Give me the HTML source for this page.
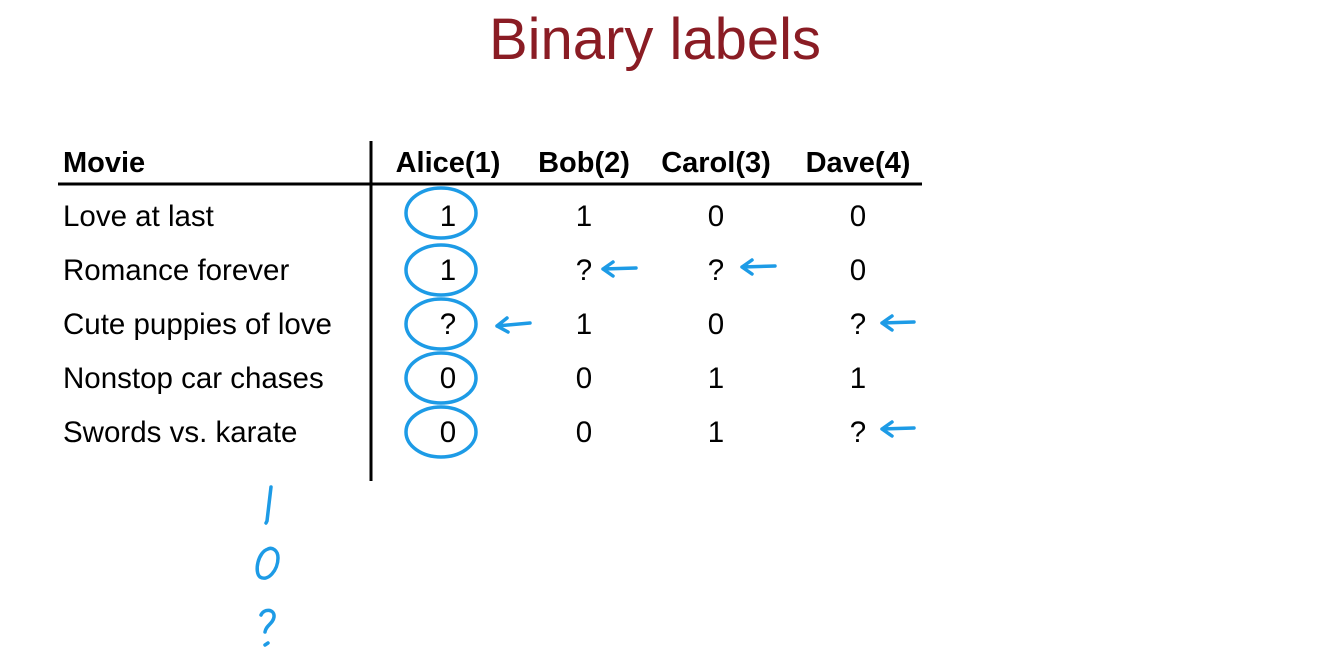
<!DOCTYPE html>
<html><head><meta charset="utf-8"><style>
html,body{margin:0;padding:0;background:#fff;}
svg{display:block;}
</style></head><body>
<svg width="1327" height="653" viewBox="0 0 1327 653" xmlns="http://www.w3.org/2000/svg" font-family="Liberation Sans, Arial, sans-serif">
<rect width="1327" height="653" fill="#fff"/>
<text x="655" y="59" text-anchor="middle" font-size="58" fill="#8a1c24">Binary labels</text>
<g font-size="29" font-weight="bold" fill="#000">
<text x="63" y="172">Movie</text>
<text x="448" y="172" text-anchor="middle">Alice(1)</text>
<text x="584" y="172" text-anchor="middle">Bob(2)</text>
<text x="716" y="172" text-anchor="middle">Carol(3)</text>
<text x="858" y="172" text-anchor="middle">Dave(4)</text>
</g>
<line x1="58" y1="184" x2="922" y2="184" stroke="#000" stroke-width="3"/>
<line x1="371" y1="141" x2="371" y2="481" stroke="#000" stroke-width="3"/>
<g font-size="29.5" fill="#000">
<text x="63" y="226">Love at last</text>
<text x="63" y="280">Romance forever</text>
<text x="63" y="334">Cute puppies of love</text>
<text x="63" y="388">Nonstop car chases</text>
<text x="63" y="442">Swords vs. karate</text>
<g text-anchor="middle">
<text x="448" y="226">1</text><text x="584" y="226">1</text><text x="716" y="226">0</text><text x="858" y="226">0</text>
<text x="448" y="280">1</text><text x="584" y="280">?</text><text x="716" y="280">?</text><text x="858" y="280">0</text>
<text x="448" y="334">?</text><text x="584" y="334">1</text><text x="716" y="334">0</text><text x="858" y="334">?</text>
<text x="448" y="388">0</text><text x="584" y="388">0</text><text x="716" y="388">1</text><text x="858" y="388">1</text>
<text x="448" y="442">0</text><text x="584" y="442">0</text><text x="716" y="442">1</text><text x="858" y="442">?</text>
</g></g>
<g fill="none" stroke="#1d9be6" stroke-width="3.5" stroke-linecap="round" stroke-linejoin="round">
<ellipse cx="441" cy="213" rx="35" ry="25"/>
<ellipse cx="441" cy="270" rx="35" ry="25"/>
<ellipse cx="441" cy="324" rx="35" ry="25"/>
<ellipse cx="441" cy="378" rx="35" ry="25"/>
<ellipse cx="441" cy="432" rx="35" ry="25"/>
<path d="M603 269 L636 268 M603 269 L613 262 M603 269 L613 276"/>
<path d="M742 267 L775 266 M742 267 L752 260 M742 267 L752 274"/>
<path d="M497 326 L530 323 M497 326 L507 318 M497 326 L508 332"/>
<path d="M882 323 L914 322 M882 323 L892 316 M882 323 L892 330"/>
<path d="M882 429 L914 428 M882 429 L892 422 M882 429 L892 436"/>
<path d="M271 487 L267 521 L266 523"/>
<path d="M268 549 C258 552 254 572 260 577 C268 582 278 570 278 558 C278 550 272 547 268 549 Z"/>
<path d="M261 615 C264 608 275 609 274 617 C273 624 266 625 265 632"/>
<path d="M265 645 L268 643"/>
</g>
</svg>
</body></html>
